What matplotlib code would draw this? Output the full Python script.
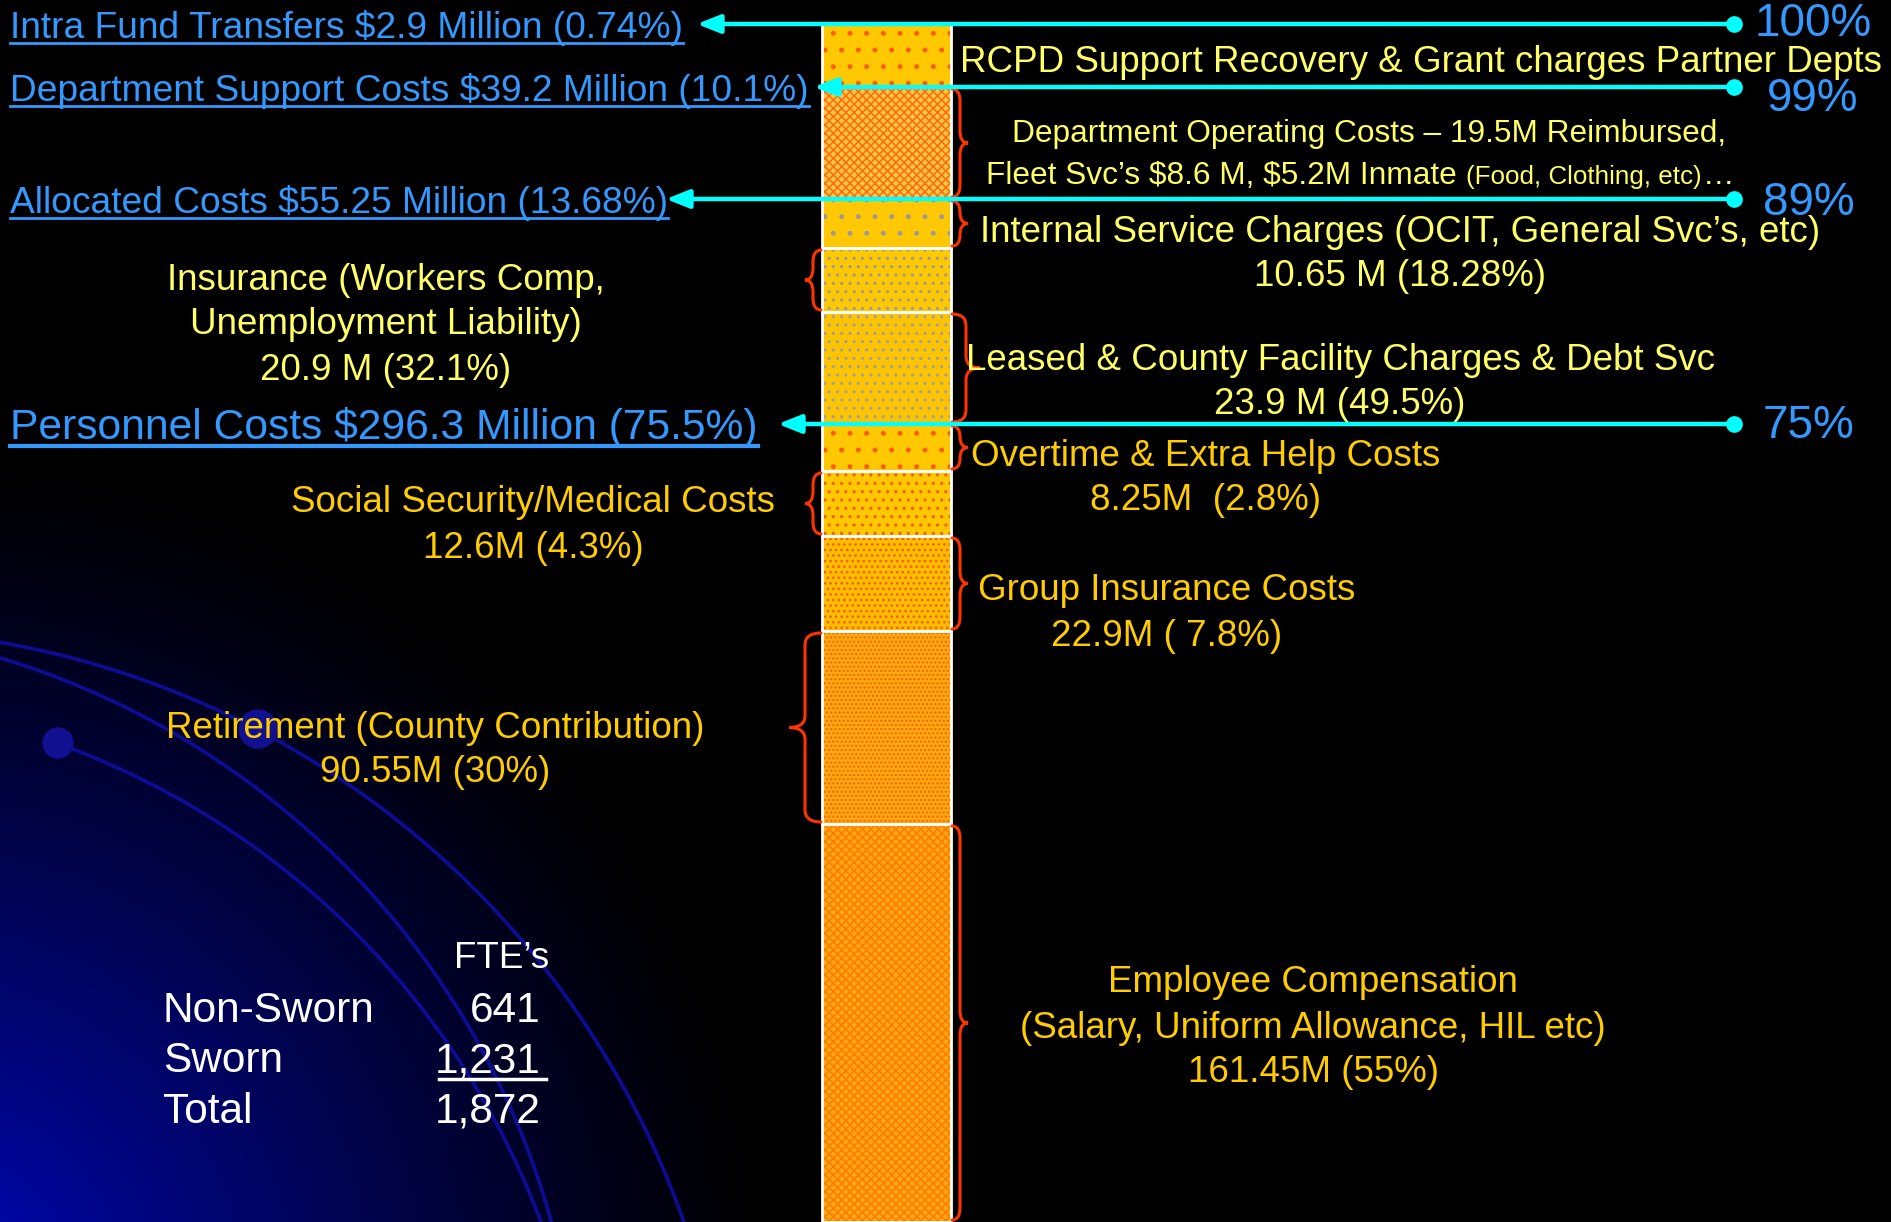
import numpy as np
import matplotlib
matplotlib.use("Agg")
import matplotlib.pyplot as plt
from matplotlib.patches import Arc, Circle, PathPatch
from matplotlib.path import Path

plt.rcParams['font.family'] = ['Liberation Sans', 'DejaVu Sans']
plt.rcParams['hatch.linewidth'] = 1.1

# ---------------- data ----------------
# stacked column, top to bottom; heights are the drawn sizes of each block
segment_names = ["RCPD Support Recovery", "Department Operating Costs",
                 "Internal Service Charges", "Insurance", "Leased & County Facility",
                 "Overtime & Extra Help", "Social Security/Medical", "Group Insurance",
                 "Retirement", "Employee Compensation"]
segment_heights = [63, 112, 49, 64, 112, 47, 65, 95, 193, 398]

segment_text = [
    ["RCPD Support Recovery & Grant charges Partner Depts"],
    ["Department Operating Costs \u2013 19.5M Reimbursed,"],
    ["Internal Service Charges (OCIT, General Svc\u2019s, etc)", "10.65 M (18.28%)"],
    ["Insurance (Workers Comp,", "Unemployment Liability)", "20.9 M (32.1%)"],
    ["Leased & County Facility Charges & Debt Svc", "23.9 M (49.5%)"],
    ["Overtime & Extra Help Costs", "8.25M  (2.8%)"],
    ["Social Security/Medical Costs", "12.6M (4.3%)"],
    ["Group Insurance Costs", "22.9M ( 7.8%)"],
    ["Retirement (County Contribution)", "90.55M (30%)"],
    ["Employee Compensation", "(Salary, Uniform Allowance, HIL etc)", "161.45M (55%)"],
]
dept_op_line2 = ["Fleet Svc\u2019s $8.6 M, $5.2M Inmate ", "(Food, Clothing, etc)", "\u2026"]

group_labels = ["Intra Fund Transfers $2.9 Million (0.74%)",
                "Department Support Costs $39.2 Million (10.1%)",
                "Allocated Costs $55.25 Million (13.68%)",
                "Personnel Costs $296.3 Million (75.5%)"]
group_pcts = ["100%", "99%", "89%", "75%"]
group_at = [0, 1, 2, 5]          # marker sits on top of this segment

fte_labels = ["Non-Sworn", "Sworn", "Total"]
fte_values = ["641", "1,231", "1,872"]

# ---------------- layout / style ----------------
W, H = 1891, 1222
BAR_X, BAR_W, BAR_TOP = 886.5, 129, 24
face = ['#FFC800', '#FFC840', '#FFC800', '#FFC800', '#FFC400',
        '#FFC800', '#FFC800', '#FFBE00', '#FFAC10', '#FFA810']
hatch = ['.', 'xxxx', '.', '..', '..', '.', '..', '...', '....', 'xxxx']
hcol = ['#FF5A00', '#FF6A10', '#9A9A9A', '#9A9A9A', '#A0A0A0',
        '#FF5A00', '#FF5A00', '#FF5A00', '#FF6000', '#FF7A00']
brace_w = [0, 16, 16, -16, 28, 16, -16, 16, -32, 16]
txt_col = ['#FFFF66'] * 5 + ['#FFCC00'] * 5
txt_pos = [(1421, 58), (1369, 130), (1400, 228), (386, 276), (1340, 356),
           (1206, 452), (533, 499), (1167, 587), (435, 724), (1313, 979)]
DY = 4          # nudge: matplotlib centres on the full line box
LBL = 26.5
BLUE = '#3399FF'
CYAN = '#00FFFF'
RED = '#FF3300'

fig = plt.figure(figsize=(W / 100, H / 100), dpi=100)
fig.patch.set_facecolor('black')
ax = fig.add_axes([0, 0, 1, 1])
ax.set_facecolor('black')

# background: blue glow bottom-left with arcs
yy, xx = np.mgrid[0:H:3, 0:W:3]
d = np.hypot(xx + 80, yy - 1300)
glow = np.clip(1 - d / 850, 0, 1) ** 1.2
bg = np.zeros(xx.shape + (3,))
bg[..., 1] = 0.03 * glow
bg[..., 2] = 0.75 * glow
ax.imshow(bg, extent=(0, W, H, 0), interpolation='bilinear', zorder=0)
for (cx, cy, r, t1) in [(-153, 1516, 887, -100), (-236, 1440, 817, -100), (-218, 1505, 810, -70)]:
    ax.add_patch(Arc((cx, cy), 2 * r, 2 * r, theta1=t1, theta2=0,
                     color='#0C0C96', lw=2.6, zorder=1))
ax.add_patch(Circle((58, 743), 15, color='#101090', zorder=1))
ax.add_patch(Circle((258, 729), 19, color='#101090', zorder=1))

# stacked column
bottoms = BAR_TOP + np.concatenate([[0], np.cumsum(segment_heights)[:-1]])
ax.bar([BAR_X] * len(segment_heights), segment_heights, bottom=bottoms, width=BAR_W,
       color=face, edgecolor=hcol, hatch=hatch, linewidth=0, zorder=2)
ax.bar([BAR_X] * len(segment_heights), segment_heights, bottom=bottoms, width=BAR_W,
       fill=False, edgecolor='white', linewidth=2, zorder=3)

ax.set_xlim(0, W)
ax.set_ylim(H, 0)
ax.set_aspect('auto')
ax.axis('off')


def brace(x0, y0, y1, w):
    ym = (y0 + y1) / 2
    r = min(abs(y1 - y0) / 4, 12)
    xm = x0 + w / 2
    verts = [(x0, y0), (xm, y0), (xm, y0 + r), (xm, ym - r), (xm, ym), (x0 + w, ym),
             (xm, ym), (xm, ym + r), (xm, y1 - r), (xm, y1), (x0, y1)]
    codes = [Path.MOVETO, Path.CURVE3, Path.CURVE3, Path.LINETO, Path.CURVE3, Path.CURVE3,
             Path.CURVE3, Path.CURVE3, Path.LINETO, Path.CURVE3, Path.CURVE3]
    ax.add_patch(PathPatch(Path(verts, codes), fill=False, edgecolor=RED, lw=2.2,
                           zorder=4, capstyle='round'))


for i, w in enumerate(brace_w):
    if w == 0:
        continue
    y0 = bottoms[i] + 2
    y1 = bottoms[i] + segment_heights[i] - 2
    x0 = BAR_X + BAR_W / 2 + 1 if w > 0 else BAR_X - BAR_W / 2 - 1
    brace(x0, y0, y1, w)

# segment labels
for i, lines in enumerate(segment_text):
    x, y = txt_pos[i]
    fs = 22.8 if i == 1 else LBL
    for k, line in enumerate(lines):
        ax.text(x, y + DY + 45 * k, line, color=txt_col[i], fontsize=fs,
                ha='center', va='center', zorder=5, parse_math=False)

fig.canvas.draw()
rend = fig.canvas.get_renderer()
inv = ax.transData.inverted()


def right_edge(t):
    bb = t.get_window_extent(rend)
    return inv.transform((bb.x1, bb.y0))[0]


# department operating costs, second line in mixed sizes
x = 986
for part, fs in zip(dept_op_line2, [22.8, 18.7, 22.8]):
    t = ax.text(x, 184, part, color=txt_col[1], fontsize=fs, ha='left',
                va='baseline', zorder=5, parse_math=False)
    x = right_edge(t) + 1

# group markers: blue label, cyan arrow, dot and percentage
tips = [697, 814, 666, 778]
pct_pos = [(1755, 20), (1767, 95), (1763, 199), (1763, 422)]
for j, lab in enumerate(group_labels):
    y = bottoms[group_at[j]]
    big = j == 3
    t = ax.text(10, y + DY, lab, color=BLUE, fontsize=30.7 if big else 26.7,
                ha='left', va='center', zorder=6, parse_math=False)
    x1 = right_edge(t)
    uy = y + (22 if big else 19)
    ax.plot([10, x1], [uy, uy], color=BLUE, lw=3 if big else 2, zorder=6)
    ax.annotate('', xy=(tips[j], y), xytext=(1734, y), zorder=7,
                arrowprops=dict(arrowstyle='-|>,head_length=0.7,head_width=0.28',
                                mutation_scale=20, color=CYAN, lw=3.2,
                                shrinkA=0, shrinkB=0))
    ax.plot(1734, y, 'o', ms=11, color=CYAN, zorder=7)
    px, py = pct_pos[j]
    ax.text(px, py + DY, group_pcts[j], color=BLUE, fontsize=33, ha='left', va='center',
            zorder=7)

# FTE table
ax.text(549, 955 + DY, "FTE\u2019s", color='white', fontsize=26.5, ha='right',
        va='center', zorder=6)
for k, (lab, val) in enumerate(zip(fte_labels, fte_values)):
    y = 1007 + DY + 50.5 * k
    ax.text(163, y, lab, color='white', fontsize=30.5, ha='left', va='center', zorder=6)
    ax.text(541, y, val, color='white', fontsize=30.5, ha='right', va='center', zorder=6)
ax.plot([439, 546], [1079, 1079], color='white', lw=2.5, zorder=6)

fig.savefig('out.png', dpi=100, facecolor='black')
